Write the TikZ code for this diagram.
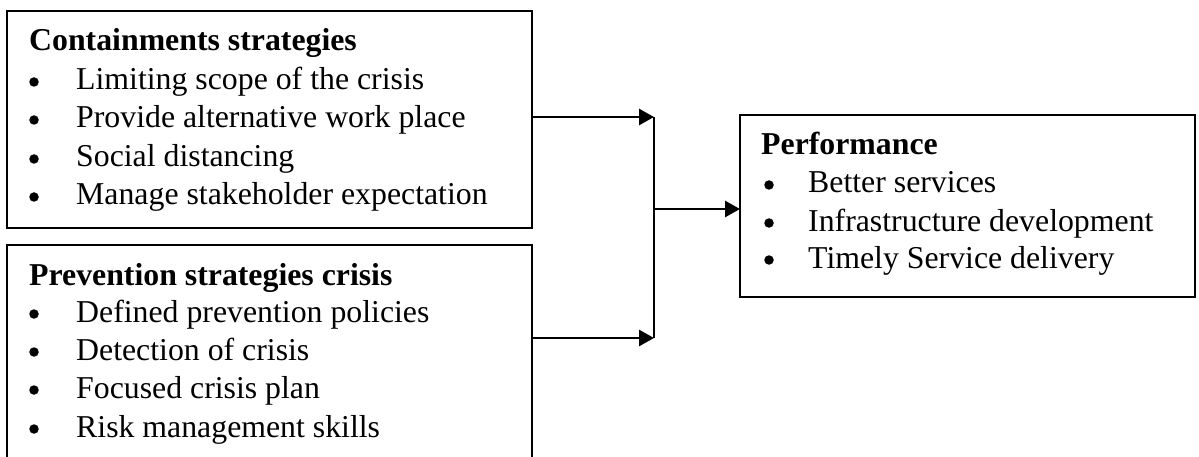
\documentclass[tikz,border=0pt]{standalone}
\usepackage{fontspec}
\setmainfont{Liberation Serif}
\usetikzlibrary{arrows.meta}
\begin{document}
\begin{tikzpicture}[x=1pt,y=-1pt,
  box/.style={draw,line width=1.3pt},
  txt/.style={anchor=base west,inner sep=0pt,font=\fontsize{31.8}{38}\selectfont},
  ttl/.style={txt,font=\fontsize{31.8}{38}\selectfont\bfseries},
  bul/.style={circle,fill,inner sep=0pt,minimum size=9.5pt},
  conn/.style={line width=2.8pt,-{Triangle[length=15pt,width=16pt]}},
  link/.style={line width=1.4pt}]
\useasboundingbox (0,0) rectangle (1199,457);
\begin{scope}
\clip (0,0) rectangle (1199,457);
\draw[box] (7,11) rectangle (532,228);
\draw[box] (7,245) rectangle (532,470);
\draw[box] (740,115) rectangle (1195,297);
\end{scope}
\coordinate (b1e) at (532,117);
\coordinate (b2e) at (532,338);
\coordinate (j1) at (654,117);
\coordinate (j2) at (654,338);
\coordinate (jm) at (654,209);
\coordinate (b3w) at (740,209);
% box 1 text
\node[ttl] (t1) at (29,51) {Containments strategies};
\foreach \y/\t [count=\i] in {90/Limiting scope of the crisis,128/Provide alternative work place,167/Social distancing,205/Manage stakeholder expectation}{
  \node[bul] (a\i b) at (34,\y-8) {};
  \node[txt] (a\i) at (76,\y) {\t};
}
% box 2 text
\node[ttl] (t2) at (29,285) {Prevention strategies crisis};
\foreach \y/\t [count=\i] in {322/Defined prevention policies,360/Detection of crisis,398/Focused crisis plan,437/Risk management skills}{
  \node[bul] (c\i b) at (34,\y-8) {};
  \node[txt] (c\i) at (76,\y) {\t};
}
% box 3 text
\node[ttl] (t3) at (761,155) {Performance};
\foreach \y/\t [count=\i] in {193/Better services,231/Infrastructure development,268/Timely Service delivery}{
  \node[bul] (p\i b) at (769,\y-8) {};
  \node[txt] (p\i) at (808,\y) {\t};
}
% connectors
\draw[conn] (b1e) -- (j1);
\draw[conn] (b2e) -- (j2);
\draw[link] (j1) -- (j2);
\draw[conn] (jm) -- (b3w);
\end{tikzpicture}
\end{document}
